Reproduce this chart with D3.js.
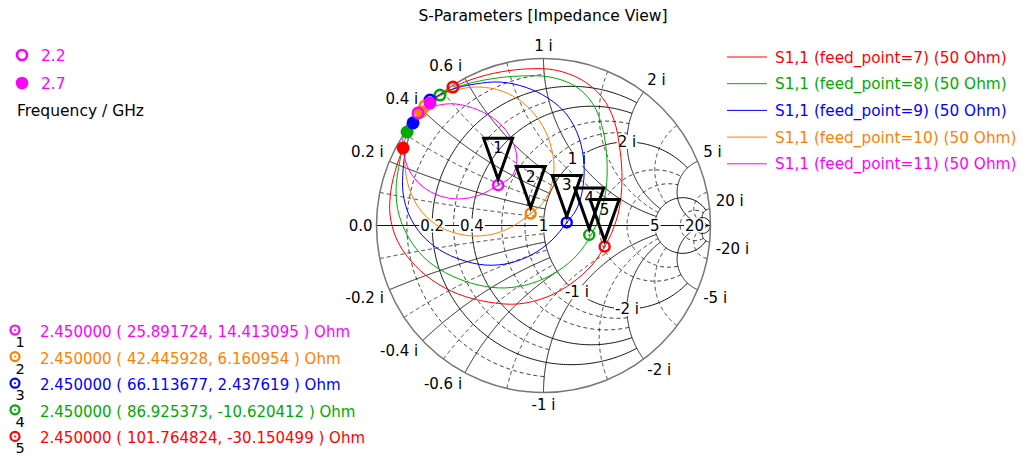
<!DOCTYPE html>
<html><head><meta charset="utf-8">
<script src="https://cdn.jsdelivr.net/npm/d3@7"></script>
<style>
body{margin:0;background:#fff;}
svg{display:block;font-family:"DejaVu Sans",sans-serif;}
</style></head><body>
<svg id="chart" width="1025" height="457"></svg>
<script>
// S1,1 traces 2.2 .. 2.7 GHz, reflection coefficient [re, im]
const feed7 = [[-0.542,0.829],[-0.440,0.871],[-0.290,0.913],[-0.111,0.937],[0.069,0.931],[0.231,0.871],[0.350,0.769],[0.422,0.632],[0.458,0.452],[0.470,0.272],[0.452,0.093],[0.410,-0.039],[0.366,-0.126],[0.290,-0.237],[0.171,-0.344],[0.021,-0.428],[-0.153,-0.470],[-0.332,-0.458],[-0.512,-0.410],[-0.668,-0.326],[-0.793,-0.213],[-0.877,-0.087],[-0.919,0.063],[-0.913,0.213],[-0.883,0.344],[-0.841,0.464]];
const feed8 = [[-0.620,0.781],[-0.500,0.835],[-0.320,0.877],[-0.141,0.895],[0.039,0.889],[0.189,0.835],[0.296,0.728],[0.356,0.572],[0.380,0.392],[0.374,0.213],[0.338,0.063],[0.285,-0.057],[0.201,-0.177],[0.087,-0.272],[-0.063,-0.344],[-0.231,-0.374],[-0.392,-0.356],[-0.548,-0.302],[-0.692,-0.213],[-0.799,-0.087],[-0.865,0.063],[-0.883,0.213],[-0.859,0.392],[-0.817,0.560]];
const feed9 = [[-0.680,0.751],[-0.560,0.811],[-0.410,0.847],[-0.260,0.859],[-0.111,0.829],[0.027,0.763],[0.141,0.662],[0.213,0.524],[0.243,0.362],[0.231,0.201],[0.195,0.093],[0.139,0.018],[0.051,-0.087],[-0.063,-0.171],[-0.201,-0.225],[-0.344,-0.237],[-0.488,-0.207],[-0.620,-0.147],[-0.728,-0.057],[-0.805,0.063],[-0.841,0.195],[-0.841,0.332],[-0.823,0.464],[-0.781,0.614]];
const feed10 = [[-0.710,0.716],[-0.620,0.775],[-0.500,0.817],[-0.380,0.829],[-0.249,0.805],[-0.129,0.740],[-0.027,0.632],[0.039,0.494],[0.063,0.332],[0.027,0.183],[-0.021,0.117],[-0.077,0.072],[-0.171,0.003],[-0.278,-0.045],[-0.404,-0.063],[-0.530,-0.045],[-0.650,0.009],[-0.746,0.105],[-0.805,0.225],[-0.829,0.362],[-0.817,0.500],[-0.781,0.602],[-0.734,0.680]];
const feed11 = [[-0.751,0.674],[-0.650,0.716],[-0.530,0.728],[-0.392,0.692],[-0.272,0.620],[-0.189,0.512],[-0.159,0.392],[-0.189,0.296],[-0.272,0.242],[-0.380,0.183],[-0.500,0.159],[-0.620,0.177],[-0.728,0.237],[-0.805,0.332],[-0.841,0.452],[-0.835,0.560],[-0.787,0.656],[-0.728,0.710],[-0.680,0.734]];

const seriesNames = ["S1,1 (feed_point=7) (50 Ohm)","S1,1 (feed_point=8) (50 Ohm)","S1,1 (feed_point=9) (50 Ohm)","S1,1 (feed_point=10) (50 Ohm)","S1,1 (feed_point=11) (50 Ohm)"];
const seriesColors = ["#ff0000","#00aa00","#0000ff","#ff8000","#ff00ff"];
const traces = [feed7, feed8, feed9, feed10, feed11];

// frequency legend
const freqStart = "2.2", freqStop = "2.7";

// markers at 2.450000 GHz, impedance in Ohm, listed 1..5 (feed 11, 10, 9, 8, 7)
const markerFreq = "2.450000";
const markerRe = [25.891724, 42.445928, 66.113677, 86.925373, 101.764824];
const markerIm = [14.413095, 6.160954, 2.437619, -10.620412, -30.150499];
const markerColors = ["#ff00ff","#ff8000","#0000ff","#00aa00","#ff0000"];
const z0 = 50;

// grid: resistance circles [r, |x| limit], reactance arcs [x, r limit]
const rMajor = [[0.2, 2], [0.4, 2], [1, 5], [5, 20], [20, Infinity]];
const xMajor = [[0.2, 1], [0.4, 1], [0.6, 1], [1, 5], [2, 5], [5, 20], [20, Infinity]];
const rMinor = [[0.1, 1], [0.3, 1], [0.6, 2], [0.8, 2], [2, 5], [3, 5], [10, 20]];
const xMinor = [[0.1, 1], [0.3, 1], [0.5, 1], [0.8, 2], [1.5, 5], [3, 5], [10, 20]];
const rTicks = [0.2, 0.4, 1, 5, 20];
const xTicksOuter = [0.2, 0.4, 0.6, 1, 2, 5, 20];
const xTicksInner = [1, 2];

const svg = d3.select("#chart");
const cx = 543.5, cy = 225.5, R = 167;
const sx = d3.scaleLinear().domain([-1, 1]).range([cx - R, cx + R]);
const sy = d3.scaleLinear().domain([-1, 1]).range([cy + R, cy - R]);

function gam(r, x) {
  if (!isFinite(r) || !isFinite(x)) return [1, 0];
  const d = (r + 1) * (r + 1) + x * x;
  return [(r * r + x * x - 1) / d, 2 * x / d];
}
const line = d3.line().x(d => sx(d[0])).y(d => sy(d[1]));
function rCircle(r, xm) {
  const n = 300, a = isFinite(xm) ? Math.atan(xm) : Math.PI / 2 - 1e-6, pts = [];
  for (let i = 0; i <= n; i++) pts.push(gam(r, Math.tan(-a + 2 * a * i / n)));
  return pts;
}
function xArc(x, r1) {
  const n = 300, u1 = isFinite(r1) ? r1 / (1 + r1) : 1, pts = [];
  for (let i = 0; i <= n; i++) {
    const u = u1 * i / n;
    pts.push(u >= 1 ? [1, 0] : gam(u / (1 - u), x));
  }
  return pts;
}

const grid = svg.append("g");
// minor grid
rMinor.forEach(([r, xm]) => grid.append("path").attr("d", line(rCircle(r, xm)))
  .attr("fill", "none").attr("stroke", "#222").attr("stroke-width", 0.9).attr("stroke-dasharray", "4,3"));
xMinor.forEach(([x, rm]) => [x, -x].forEach(v => grid.append("path").attr("d", line(xArc(v, rm)))
  .attr("fill", "none").attr("stroke", "#222").attr("stroke-width", 0.9).attr("stroke-dasharray", "4,3")));
// major grid
rMajor.forEach(([r, xm]) => grid.append("path").attr("d", line(rCircle(r, xm)))
  .attr("fill", "none").attr("stroke", "#111").attr("stroke-width", 1));
xMajor.forEach(([x, rm]) => [x, -x].forEach(v => grid.append("path").attr("d", line(xArc(v, rm)))
  .attr("fill", "none").attr("stroke", "#111").attr("stroke-width", 1)));
// real axis and outer circle
grid.append("line").attr("x1", sx(-1)).attr("x2", sx(1)).attr("y1", sy(0)).attr("y2", sy(0))
  .attr("stroke", "#111").attr("stroke-width", 1);
grid.append("circle").attr("cx", sx(0)).attr("cy", sy(0)).attr("r", sx(1) - sx(0))
  .attr("fill", "none").attr("stroke", "#777").attr("stroke-width", 1.5);

const fs = 15;
function boxedLabel(g, txt, x, y, anchor, base) {
  const t = g.append("text").attr("x", x).attr("y", y).attr("text-anchor", anchor)
    .attr("dominant-baseline", base).attr("font-size", fs).attr("fill", "#000").text(txt);
  const b = t.node().getBBox();
  g.insert("rect", () => t.node()).attr("x", b.x - 1).attr("y", b.y + 2).attr("width", b.width + 2)
    .attr("height", b.height - 4).attr("fill", "#fff");
}
const labels = svg.append("g");
labels.append("text").attr("x", sx(-1) - 4).attr("y", sy(0)).attr("text-anchor", "end")
  .attr("dominant-baseline", "central").attr("font-size", fs).text("0.0");
rTicks.forEach(r => boxedLabel(labels, String(r), sx(gam(r, 0)[0]), sy(0), "middle", "central"));
xTicksInner.forEach(x => [x, -x].forEach(v => {
  const p = gam(1, v);
  boxedLabel(labels, (v < 0 ? "-" : "") + Math.abs(v) + " i", sx(p[0]), sy(p[1]), "middle", "central");
}));
xTicksOuter.forEach(x => [x, -x].forEach(v => {
  const p = gam(0, v), a = Math.atan2(p[1], p[0]);
  const px = cx + (R + 6) * Math.cos(a), py = cy - (R + 6) * Math.sin(a);
  const anchor = Math.cos(a) < -0.15 ? "end" : (Math.cos(a) > 0.15 ? "start" : "middle");
  labels.append("text").attr("x", px).attr("y", v > 0 ? py - 2 : py + 11).attr("text-anchor", anchor)
    .attr("font-size", fs).text((v < 0 ? "-" : "") + Math.abs(v) + " i");
}));

// traces
const curve = d3.line().x(d => sx(d[0])).y(d => sy(d[1])).curve(d3.curveCatmullRom.alpha(0.5));
traces.forEach((t, i) => svg.append("path").attr("d", curve(t)).attr("fill", "none")
  .attr("stroke", seriesColors[i]).attr("stroke-width", 1));
// start (open) and stop (filled) points
traces.forEach((t, i) => {
  const a = t[0], b = t[t.length - 1];
  svg.append("circle").attr("cx", sx(a[0])).attr("cy", sy(a[1])).attr("r", 5.2)
    .attr("fill", "none").attr("stroke", seriesColors[i]).attr("stroke-width", 2.6);
  svg.append("circle").attr("cx", sx(b[0])).attr("cy", sy(b[1])).attr("r", 6.5).attr("fill", seriesColors[i]);
});

// markers
const mg = svg.append("g");
markerRe.forEach((re, i) => {
  const zr = re / z0, zi = markerIm[i] / z0, g = gam(zr, zi);
  const mx = sx(g[0]), my = sy(g[1]);
  mg.append("circle").attr("cx", mx).attr("cy", my).attr("r", 5).attr("fill", "none")
    .attr("stroke", markerColors[i]).attr("stroke-width", 2.4);
  mg.append("circle").attr("cx", mx).attr("cy", my).attr("r", 1).attr("fill", markerColors[i]);
});
markerRe.forEach((re, i) => {
  const g = gam(re / z0, markerIm[i] / z0), mx = sx(g[0]), my = sy(g[1]);
  mg.append("path").attr("d", `M${mx - 14.5},${my - 47}L${mx + 14.5},${my - 47}L${mx},${my - 6}Z`)
    .attr("fill", "none").attr("stroke", "#000").attr("stroke-width", 3).attr("stroke-linejoin", "miter");
  mg.append("text").attr("x", mx).attr("y", my - 32).attr("text-anchor", "middle")
    .attr("font-size", fs).text(i + 1);
});

// title
svg.append("text").attr("x", 543).attr("y", 21).attr("text-anchor", "middle").attr("font-size", 15.5)
  .text("S-Parameters [Impedance View]");

// series legend
seriesNames.forEach((n, i) => {
  const y = 57 + i * 26.7;
  svg.append("line").attr("x1", 727).attr("x2", 767).attr("y1", y).attr("y2", y)
    .attr("stroke", seriesColors[i]).attr("stroke-width", 1);
  svg.append("text").attr("x", 775).attr("y", y + 5.5).attr("font-size", 15.3)
    .attr("fill", seriesColors[i]).text(n);
});

// frequency legend
svg.append("circle").attr("cx", 22).attr("cy", 55).attr("r", 5).attr("fill", "none")
  .attr("stroke", "#ff00ff").attr("stroke-width", 2.6);
svg.append("text").attr("x", 41).attr("y", 61).attr("font-size", 15.5).attr("fill", "#ff00ff").text(freqStart);
svg.append("circle").attr("cx", 22).attr("cy", 83).attr("r", 6.3).attr("fill", "#ff00ff");
svg.append("text").attr("x", 41).attr("y", 89).attr("font-size", 15.5).attr("fill", "#ff00ff").text(freqStop);
svg.append("text").attr("x", 17).attr("y", 116).attr("font-size", 15.5).attr("fill", "#000").text("Frequency / GHz");

// marker table
markerRe.forEach((re, i) => {
  const y = 330 + i * 26.6;
  svg.append("circle").attr("cx", 15).attr("cy", y).attr("r", 4.5).attr("fill", "none")
    .attr("stroke", markerColors[i]).attr("stroke-width", 2.2);
  svg.append("circle").attr("cx", 15).attr("cy", y).attr("r", 1).attr("fill", markerColors[i]);
  svg.append("text").attr("x", 20).attr("y", y + 17).attr("text-anchor", "middle").attr("font-size", 14.5).text(i + 1);
  svg.append("text").attr("x", 40).attr("y", y + 7).attr("font-size", 15).attr("fill", markerColors[i])
    .text(`${markerFreq} ( ${re.toFixed(6)}, ${markerIm[i].toFixed(6)} ) Ohm`);
});
</script>
</body></html>
